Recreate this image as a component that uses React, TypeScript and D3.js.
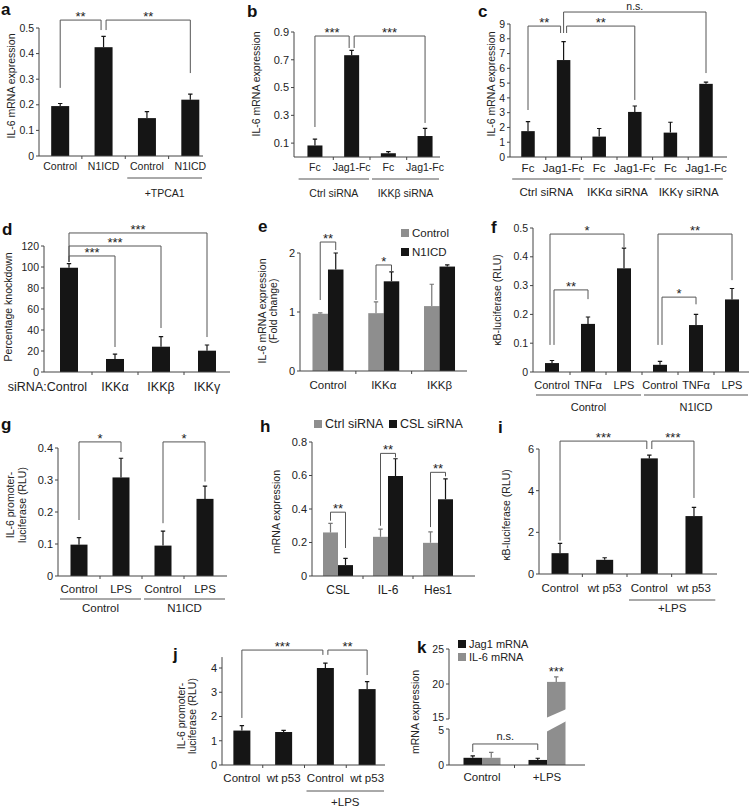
import React from "react";
import * as d3 from "d3";

// ---------------- DATA ----------------
// panel a
const aCats = ["Control", "N1ICD", "Control", "N1ICD"];
const aVals = [0.195, 0.425, 0.148, 0.22];
const aErrs = [0.01, 0.042, 0.025, 0.022];
const aTicks = [0, 0.1, 0.2, 0.3, 0.4, 0.5];
const aGroups = [{ from: 2, to: 3, label: "+TPCA1" }];
const aSig = [
  { a: 0, b: 1, top: 0.531, ya: 0.266, yb: 0.492, label: "**", ib: -2.5 },
  { a: 1, b: 3, top: 0.531, ya: 0.492, yb: 0.324, label: "**", ia: 2.5 },
];

// panel b
const bCats = ["Fc", "Jag1-Fc", "Fc", "Jag1-Fc"];
const bVals = [0.083, 0.733, 0.027, 0.151];
const bErrs = [0.045, 0.035, 0.012, 0.055];
const bTicks = [0.1, 0.3, 0.5, 0.7, 0.9];
const bGroups = [
  { from: 0, to: 1, label: "Ctrl siRNA" },
  { from: 2, to: 3, label: "IKKβ siRNA" },
];
const bSig = [
  { a: 0, b: 1, top: 0.871, ya: 0.216, yb: 0.785, label: "***", ib: -2.5 },
  { a: 1, b: 3, top: 0.871, ya: 0.785, yb: 0.245, label: "***", ia: 2.5 },
];

// panel c
const cCats = ["Fc", "Jag1-Fc", "Fc", "Jag1-Fc", "Fc", "Jag1-Fc"];
const cVals = [1.75, 6.56, 1.38, 3.05, 1.65, 4.95];
const cErrs = [0.65, 1.25, 0.55, 0.4, 0.7, 0.12];
const cTicks = [0, 1, 2, 3, 4, 5, 6, 7, 8, 9];
const cGroups = [
  { from: 0, to: 1, label: "Ctrl siRNA" },
  { from: 2, to: 3, label: "IKKα siRNA" },
  { from: 4, to: 5, label: "IKKγ siRNA" },
];
const cSig = [
  { a: 0, b: 1, top: 8.86, ya: 3.18, yb: 8.39, label: "**", ib: -3 },
  { a: 1, b: 3, top: 8.86, ya: 8.39, yb: 3.86, label: "**", ia: 3 },
  { a: 1, b: 5, top: 9.81, ya: 8.39, yb: 5.68, label: "n.s." },
];

// panel d
const dCats = ["siRNA:Control", "IKKα", "IKKβ", "IKKγ"];
const dVals = [99.3, 12.4, 24.1, 20.3];
const dErrs = [4, 4.7, 9.5, 5.4];
const dTicks = [0, 20, 40, 60, 80, 100, 120];
const dSig = [
  { a: 0, b: 3, top: 132.4, ya: 104.8, yb: 33.3, label: "***" },
  { a: 0, b: 2, top: 120, ya: 104.8, yb: 41.9, label: "***" },
  { a: 0, b: 1, top: 110.5, ya: 104.8, yb: 23.8, label: "***" },
];

// panel e
const eCats = ["Control", "IKKα", "IKKβ"];
const eSeriesNames = ["Control", "N1ICD"];
const eControl = [0.97, 0.98, 1.1];
const eControlErr = [0.015, 0.19, 0.37];
const eN1ICD = [1.72, 1.52, 1.77];
const eN1ICDErr = [0.28, 0.16, 0.03];
const eTicks = [0, 1, 2];
const eSig = [
  { a: 0, sa: 0, b: 0, sb: 1, top: 2.186, ya: 1.203, yb: 2.05, label: "**" },
  { a: 1, sa: 0, b: 1, sb: 1, top: 1.797, ya: 1.203, yb: 1.678, label: "*" },
];

// panel f
const fCats = ["Control", "TNFα", "LPS", "Control", "TNFα", "LPS"];
const fVals = [0.031, 0.167, 0.36, 0.025, 0.163, 0.252];
const fErrs = [0.009, 0.024, 0.07, 0.012, 0.037, 0.038];
const fTicks = [0, 0.1, 0.2, 0.3, 0.4, 0.5];
const fGroups = [
  { from: 0, to: 2, label: "Control" },
  { from: 3, to: 5, label: "N1ICD" },
];
const fSig = [
  { a: 0, b: 2, top: 0.479, ya: 0.094, yb: 0.434, label: "*", ia: -2 },
  { a: 0, b: 1, top: 0.285, ya: 0.094, yb: 0.253, label: "**", ia: 2 },
  { a: 3, b: 5, top: 0.479, ya: 0.094, yb: 0.319, label: "**", ia: -2 },
  { a: 3, b: 4, top: 0.26, ya: 0.094, yb: 0.235, label: "*", ia: 2 },
];

// panel g
const gCats = ["Control", "LPS", "Control", "LPS"];
const gVals = [0.098, 0.308, 0.095, 0.241];
const gErrs = [0.022, 0.06, 0.045, 0.04];
const gTicks = [0, 0.1, 0.2, 0.3, 0.4];
const gGroups = [
  { from: 0, to: 1, label: "Control" },
  { from: 2, to: 3, label: "N1ICD" },
];
const gSig = [
  { a: 0, b: 1, top: 0.419, ya: 0.175, yb: 0.3875, label: "*" },
  { a: 2, b: 3, top: 0.419, ya: 0.165, yb: 0.295, label: "*" },
];

// panel h
const hCats = ["CSL", "IL-6", "Hes1"];
const hSeriesNames = ["Ctrl siRNA", "CSL siRNA"];
const hCtrl = [0.26, 0.234, 0.198];
const hCtrlErr = [0.054, 0.046, 0.066];
const hCSL = [0.065, 0.597, 0.458];
const hCSLErr = [0.04, 0.103, 0.122];
const hTicks = [0, 0.2, 0.4, 0.6, 0.8];
const hSig = [
  { a: 0, sa: 0, b: 0, sb: 1, top: 0.381, ya: 0.33, yb: 0.167, label: "**" },
  { a: 1, sa: 0, b: 1, sb: 1, top: 0.732, ya: 0.3, yb: 0.708, label: "**" },
  { a: 2, sa: 0, b: 2, sb: 1, top: 0.619, ya: 0.292, yb: 0.595, label: "**" },
];

// panel i
const iCats = ["Control", "wt p53", "Control", "wt p53"];
const iVals = [1.0, 0.68, 5.55, 2.78];
const iErrs = [0.47, 0.1, 0.16, 0.42];
const iTicks = [0, 2, 4, 6];
const iGroups = [{ from: 2, to: 3, label: "+LPS" }];
const iSig = [
  { a: 0, b: 2, top: 6.38, ya: 1.6, yb: 6.0, label: "***", ib: -2.5 },
  { a: 2, b: 3, top: 6.38, ya: 6.0, yb: 3.65, label: "***", ia: 2.5 },
];

// panel j
const jCats = ["Control", "wt p53", "Control", "wt p53"];
const jVals = [1.42, 1.36, 4.0, 3.13];
const jErrs = [0.2, 0.07, 0.2, 0.31];
const jTicks = [0, 1, 2, 3, 4];
const jGroups = [{ from: 2, to: 3, label: "+LPS" }];
const jSig = [
  { a: 0, b: 2, top: 4.74, ya: 1.94, yb: 4.54, label: "***", ib: -2.5 },
  { a: 2, b: 3, top: 4.74, ya: 4.54, yb: 3.71, label: "**", ia: 2.5 },
];

// panel k
const kCats = ["Control", "+LPS"];
const kSeriesNames = ["Jag1 mRNA", "IL-6 mRNA"];
const kJag1 = [1.0, 0.7];
const kJag1Err = [0.28, 0.24];
const kIL6 = [1.0, 20.3];
const kIL6Err = [0.75, 0.72];
const kLowTicks = [0, 5];
const kHighTicks = [15, 20, 25];

// ---------------- STYLE ----------------
const FONT = "'Liberation Sans', Arial, Helvetica, sans-serif";
const TXT = "#222";
const BLACK = "#151515";
const GRAY = "#8e8e8e";
const LINE = "#555";
const AXIS = "#444";

type Series = { vals: number[]; errs: number[]; color: string };
type Sig = {
  a: number; b: number; sa?: number; sb?: number;
  top: number; ya: number; yb: number; label: string; ia?: number; ib?: number;
};
type Group = { from: number; to: number; label: string };
type Legend = { label: string; color: string; x: number; y: number };
type Cfg = {
  letter: string; lx: number; ly: number;
  yTitle: string[]; tx: number[]; ty: number;
  cats: string[]; series: Series[];
  yDomain: [number, number]; yRange: [number, number];
  ticks: number[]; axisTopVal?: number;
  xRange: [number, number]; axisX: [number, number];
  barW: number; fs: number; tfs: number; labelOff: number;
  groups?: Group[]; ulOff?: number; glOff?: number;
  sig: Sig[]; legend?: Legend[]; lfs?: number;
  firstLabelEnd?: number;
};

function Panel({ c }: { c: Cfg }) {
  const y = d3.scaleLinear().domain(c.yDomain).range(c.yRange);
  const x = d3.scaleBand<number>().domain(d3.range(c.cats.length)).range(c.xRange);
  const n = c.series.length;
  const inner = d3
    .scaleBand<number>()
    .domain(d3.range(n))
    .range([(-n * c.barW) / 2, (n * c.barW) / 2]);
  const cx = (i: number) => (x(i) as number) + x.bandwidth() / 2;
  const bx = (i: number, s: number) => cx(i) + (inner(s) as number) + inner.bandwidth() / 2;
  const y0 = y(0);
  const ax0 = c.axisX[0];
  const topY = y(c.axisTopVal ?? c.ticks[c.ticks.length - 1]);
  const els: React.ReactNode[] = [];

  // bars & errors
  c.series.forEach((s, si) => {
    s.vals.forEach((v, i) => {
      const xc = bx(i, si);
      els.push(
        <rect key={`b${si}-${i}`} x={xc - c.barW / 2} y={y(v)} width={c.barW} height={y0 - y(v)} fill={s.color} />
      );
      const ye = y(v + s.errs[i]);
      els.push(
        <path key={`e${si}-${i}`} d={`M${xc},${y(v)}V${ye}M${xc - 2.2},${ye}H${xc + 2.2}`} stroke={s.color === GRAY ? "#777" : BLACK} strokeWidth={1.2} fill="none" />
      );
    });
  });

  // axes
  els.push(<line key="yax" x1={ax0} x2={ax0} y1={y0} y2={topY} stroke={AXIS} strokeWidth={1} />);
  els.push(<line key="xax" x1={ax0} x2={c.axisX[1]} y1={y0} y2={y0} stroke={AXIS} strokeWidth={1} />);
  c.ticks.forEach((t, k) => {
    els.push(<line key={`yt${k}`} x1={ax0 - 3} x2={ax0} y1={y(t)} y2={y(t)} stroke={AXIS} />);
    els.push(
      <text key={`yl${k}`} x={ax0 - 5} y={y(t)} dy="0.35em" textAnchor="end" fontSize={c.tfs} fill={TXT}>
        {String(t)}
      </text>
    );
  });
  for (let i = 1; i < c.cats.length; i++) {
    const xx = x(i) as number;
    els.push(<line key={`xt${i}`} x1={xx} x2={xx} y1={y0} y2={y0 + 3} stroke={AXIS} />);
  }
  c.cats.forEach((cat, i) => {
    const endAnchored = i === 0 && c.firstLabelEnd !== undefined;
    els.push(
      <text
        key={`xl${i}`}
        x={endAnchored ? cx(i) + (c.firstLabelEnd as number) : cx(i)}
        y={y0 + c.labelOff}
        textAnchor={endAnchored ? "end" : "middle"}
        fontSize={c.fs}
        fill={TXT}
      >
        {cat}
      </text>
    );
  });

  // groups
  (c.groups || []).forEach((g, k) => {
    const x1 = (x(g.from) as number) + 2;
    const x2 = Math.min((x(g.to) as number) + x.bandwidth(), c.axisX[1]) - 1;
    const uy = y0 + (c.ulOff ?? 22);
    els.push(<line key={`ul${k}`} x1={x1} x2={x2} y1={uy} y2={uy} stroke={LINE} strokeWidth={1} />);
    els.push(
      <text key={`gl${k}`} x={(x1 + x2) / 2} y={y0 + (c.glOff ?? 40)} textAnchor="middle" fontSize={c.fs} fill={TXT}>
        {g.label}
      </text>
    );
  });

  // significance brackets
  c.sig.forEach((s, k) => {
    const xa = bx(s.a, s.sa ?? 0) + (s.ia ?? 0);
    const xb = bx(s.b, s.sb ?? 0) + (s.ib ?? 0);
    const yt = y(s.top);
    els.push(
      <path key={`sg${k}`} d={`M${xa},${y(s.ya)}V${yt}H${xb}V${y(s.yb)}`} stroke={LINE} strokeWidth={1} fill="none" />
    );
    const star = s.label.includes("*");
    els.push(
      <text key={`sl${k}`} x={(xa + xb) / 2} y={star ? yt + 1 : yt - 2.5} textAnchor="middle" fontSize={star ? 13 : 10.5} fill={TXT}>
        {s.label}
      </text>
    );
  });

  // legend
  (c.legend || []).forEach((l, k) => {
    els.push(<rect key={`lg${k}`} x={l.x} y={l.y} width={8} height={8} fill={l.color} />);
    els.push(
      <text key={`lt${k}`} x={l.x + 11} y={l.y + 4} dy="0.35em" fontSize={c.lfs ?? c.fs} fill={TXT}>
        {l.label}
      </text>
    );
  });

  // titles
  c.yTitle.forEach((t, k) => {
    els.push(
      <text key={`yti${k}`} transform={`translate(${c.tx[k]},${c.ty}) rotate(-90)`} textAnchor="middle" fontSize={10.5} fill={TXT}>
        {t}
      </text>
    );
  });
  els.push(
    <text key="letter" x={c.lx} y={c.ly} fontSize={17} fontWeight="bold" fill="#111">
      {c.letter}
    </text>
  );
  return <g>{els}</g>;
}

function PanelK() {
  const yLow = d3.scaleLinear().domain([0, 5]).range([765, 729]);
  const yHigh = d3.scaleLinear().domain([15, 25]).range([719, 649]);
  const yk = (v: number) => (v <= 5 ? yLow(v) : yHigh(v));
  const x = d3.scaleBand<number>().domain(d3.range(kCats.length)).range([449.5, 579.5]);
  const barW = 18.5;
  const inner = d3.scaleBand<number>().domain([0, 1]).range([-barW, barW]);
  const bx = (i: number, s: number) => (x(i) as number) + x.bandwidth() / 2 + (inner(s) as number) + barW / 2;
  const series = [
    { vals: kJag1, errs: kJag1Err, color: BLACK },
    { vals: kIL6, errs: kIL6Err, color: GRAY },
  ];
  const y0 = yLow(0);
  const ax0 = 449;
  const els: React.ReactNode[] = [];
  series.forEach((s, si) =>
    s.vals.forEach((v, i) => {
      const xc = bx(i, si);
      els.push(<rect key={`b${si}${i}`} x={xc - barW / 2} y={yk(v)} width={barW} height={y0 - yk(v)} fill={s.color} />);
      const ye = yk(v + s.errs[i]);
      els.push(
        <path key={`e${si}${i}`} d={`M${xc},${yk(v)}V${ye}M${xc - 2.2},${ye}H${xc + 2.2}`} stroke={si === 1 ? "#777" : BLACK} strokeWidth={1.2} fill="none" />
      );
      if (v > 5) {
        const xl = xc - barW / 2 - 1;
        const xr = xc + barW / 2 + 1;
        els.push(
          <polygon
            key={`br${i}`}
            points={`${xl},${yLow(5) + 3} ${xr},${yLow(5) - 8} ${xr},${yHigh(15) - 10} ${xl},${yHigh(15) - 1}`}
            fill="#fff"
          />
        );
        els.push(
          <text key={`st${i}`} x={xc} y={ye - 1} textAnchor="middle" fontSize={13} fill={TXT}>
            ***
          </text>
        );
      }
    })
  );
  // broken y axis
  els.push(<line key="yl" x1={ax0} x2={ax0} y1={y0} y2={yLow(5)} stroke={AXIS} />);
  els.push(<line key="yh" x1={ax0} x2={ax0} y1={yHigh(15)} y2={yHigh(25)} stroke={AXIS} />);
  els.push(<line key="xa" x1={ax0} x2={585} y1={y0} y2={y0} stroke={AXIS} />);
  const tickRows: [number, number, number][] = [
    ...kLowTicks.map((t) => [t, yLow(t), t === 5 ? 1.5 : 0] as [number, number, number]),
    ...kHighTicks.map((t) => [t, yHigh(t), t === 15 ? -1.5 : 0] as [number, number, number]),
  ];
  tickRows.forEach(([t, yy, nudge], k) => {
    els.push(<line key={`t${k}`} x1={ax0 - 3} x2={ax0} y1={yy} y2={yy} stroke={AXIS} />);
    els.push(
      <text key={`tl${k}`} x={ax0 - 5} y={yy + nudge} dy="0.35em" textAnchor="end" fontSize={10.5} fill={TXT}>
        {String(t)}
      </text>
    );
  });
  const xb = x(1) as number;
  els.push(<line key="xt" x1={xb} x2={xb} y1={y0} y2={y0 + 3} stroke={AXIS} />);
  kCats.forEach((c, i) =>
    els.push(
      <text key={`c${i}`} x={(x(i) as number) + x.bandwidth() / 2} y={y0 + 15.5} textAnchor="middle" fontSize={11.5} fill={TXT}>
        {c}
      </text>
    )
  );
  // n.s. bracket
  const xa = bx(0, 0);
  const xz = bx(1, 0);
  els.push(<path key="ns" d={`M${xa},${yk(1.8)}V${yk(2.92)}H${xz}V${yk(2.08)}`} stroke={LINE} fill="none" />);
  els.push(
    <text key="nst" x={(xa + xz) / 2} y={yk(2.92) - 4} textAnchor="middle" fontSize={11} fill={TXT}>
      n.s.
    </text>
  );
  // legend
  const legendColors = [BLACK, GRAY];
  kSeriesNames.forEach((nm, k) => {
    els.push(<rect key={`lr${k}`} x={458} y={640 + k * 13} width={8} height={8} fill={legendColors[k]} />);
    els.push(
      <text key={`lt${k}`} x={469} y={644 + k * 13} dy="0.35em" fontSize={11} fill={TXT}>
        {nm}
      </text>
    );
  });
  els.push(
    <text key="yt" transform={`translate(419,712) rotate(-90)`} textAnchor="middle" fontSize={10.5} fill={TXT}>
      mRNA expression
    </text>
  );
  els.push(
    <text key="let" x={417} y={653} fontSize={17} fontWeight="bold" fill="#111">
      k
    </text>
  );
  return <g>{els}</g>;
}

const one = (vals: number[], errs: number[]): Series[] => [{ vals, errs, color: BLACK }];

const cfgA: Cfg = {
  letter: "a", lx: 1, ly: 15, yTitle: ["IL-6 mRNA expression"], tx: [15], ty: 86,
  cats: aCats, series: one(aVals, aErrs), yDomain: [0, 0.5], yRange: [156, 28], ticks: aTicks,
  xRange: [38.5, 212], axisX: [39, 203], barW: 18, fs: 10.5, tfs: 10.5, labelOff: 14,
  groups: aGroups, ulOff: 22, glOff: 40.5, sig: aSig,
};
const cfgB: Cfg = {
  letter: "b", lx: 247, ly: 17, yTitle: ["IL-6 mRNA expression"], tx: [260], ty: 84,
  cats: bCats, series: one(bVals, bErrs), yDomain: [0, 0.9], yRange: [157, 32], ticks: bTicks,
  xRange: [296.6, 443.4], axisX: [294, 440], barW: 15, fs: 10.5, tfs: 11, labelOff: 14,
  groups: bGroups, ulOff: 22, glOff: 40, sig: bSig,
};
const cfgC: Cfg = {
  letter: "c", lx: 478, ly: 17, yTitle: ["IL-6 mRNA expression"], tx: [495], ty: 84,
  cats: cCats, series: one(cVals, cErrs), yDomain: [0, 9], yRange: [157, 24], ticks: cTicks,
  xRange: [510.2, 723.8], axisX: [510, 727], barW: 13.5, fs: 11.5, tfs: 10.5, labelOff: 15,
  groups: cGroups, ulOff: 22, glOff: 39, sig: cSig,
};
const cfgD: Cfg = {
  letter: "d", lx: 2, ly: 235, yTitle: ["Percentage knockdown"], tx: [12], ty: 307,
  cats: dCats, series: one(dVals, dErrs), yDomain: [0, 120], yRange: [372, 246], ticks: dTicks,
  xRange: [46, 230], axisX: [44, 230], barW: 18, fs: 12.5, tfs: 10.5, labelOff: 18.5,
  sig: dSig, firstLabelEnd: 18,
};
const cfgE: Cfg = {
  letter: "e", lx: 258, ly: 232, yTitle: ["IL-6 mRNA expression", "(Fold change)"], tx: [266, 277], ty: 311,
  cats: eCats,
  series: [
    { vals: eControl, errs: eControlErr, color: GRAY },
    { vals: eN1ICD, errs: eN1ICDErr, color: BLACK },
  ],
  yDomain: [0, 2], yRange: [371, 253], ticks: eTicks,
  xRange: [300.1, 467.4], axisX: [300, 467], barW: 15.5, fs: 11.5, tfs: 11, labelOff: 17.5,
  sig: eSig, lfs: 11.5,
  legend: [
    { label: eSeriesNames[0], color: GRAY, x: 401, y: 229 },
    { label: eSeriesNames[1], color: BLACK, x: 401, y: 248 },
  ],
};
const cfgF: Cfg = {
  letter: "f", lx: 491, ly: 233, yTitle: ["κB-luciferase (RLU)"], tx: [501], ty: 300,
  cats: fCats, series: one(fVals, fErrs), yDomain: [0, 0.5], yRange: [372, 228], ticks: fTicks,
  xRange: [534, 750], axisX: [533, 749], barW: 14, fs: 11, tfs: 10.5, labelOff: 16.5,
  groups: fGroups, ulOff: 23, glOff: 39, sig: fSig,
};
const cfgG: Cfg = {
  letter: "g", lx: 1, ly: 430, yTitle: ["IL-6 promoter-", "luciferase (RLU)"], tx: [14, 26], ty: 505,
  cats: gCats, series: one(gVals, gErrs), yDomain: [0, 0.4], yRange: [576, 448], ticks: gTicks,
  xRange: [58, 226], axisX: [58, 227], barW: 17, fs: 11.5, tfs: 11, labelOff: 17,
  groups: gGroups, ulOff: 23, glOff: 36, sig: gSig,
};
const cfgH: Cfg = {
  letter: "h", lx: 260, ly: 432, yTitle: ["mRNA expression"], tx: [280], ty: 512,
  cats: hCats,
  series: [
    { vals: hCtrl, errs: hCtrlErr, color: GRAY },
    { vals: hCSL, errs: hCSLErr, color: BLACK },
  ],
  yDomain: [0, 0.8], yRange: [576, 442], ticks: hTicks,
  xRange: [313, 463], axisX: [312, 475], barW: 15, fs: 12, tfs: 11, labelOff: 17.5,
  sig: hSig, lfs: 12.5,
  legend: [
    { label: hSeriesNames[0], color: GRAY, x: 314, y: 420 },
    { label: hSeriesNames[1], color: BLACK, x: 389, y: 420 },
  ],
};
const cfgI: Cfg = {
  letter: "i", lx: 498, ly: 433, yTitle: ["κB-luciferase (RLU)"], tx: [510], ty: 515,
  cats: iCats, series: one(iVals, iErrs), yDomain: [0, 6], yRange: [574, 449], ticks: iTicks,
  xRange: [537.7, 716.3], axisX: [539, 717], barW: 17, fs: 11.5, tfs: 11, labelOff: 17.5,
  groups: iGroups, ulOff: 26, glOff: 38, sig: iSig,
};
const cfgJ: Cfg = {
  letter: "j", lx: 173, ly: 660, yTitle: ["IL-6 promoter-", "luciferase (RLU)"], tx: [185, 196], ty: 716,
  cats: jCats, series: one(jVals, jErrs), yDomain: [0, 4], yRange: [765, 668], ticks: jTicks, axisTopVal: 4.45,
  xRange: [221, 388], axisX: [222, 385], barW: 17, fs: 11.5, tfs: 11, labelOff: 16.5,
  groups: jGroups, ulOff: 26, glOff: 40.5, sig: jSig,
};

export default function App() {
  return (
    <svg
      width={751}
      height={806}
      style={{ position: "absolute", left: 0, top: 0, display: "block" }}
      fontFamily={FONT}
    >
      <rect width={751} height={806} fill="#fff" />
      <Panel c={cfgA} />
      <Panel c={cfgB} />
      <Panel c={cfgC} />
      <Panel c={cfgD} />
      <Panel c={cfgE} />
      <Panel c={cfgF} />
      <Panel c={cfgG} />
      <Panel c={cfgH} />
      <Panel c={cfgI} />
      <Panel c={cfgJ} />
      <PanelK />
    </svg>
  );
}
